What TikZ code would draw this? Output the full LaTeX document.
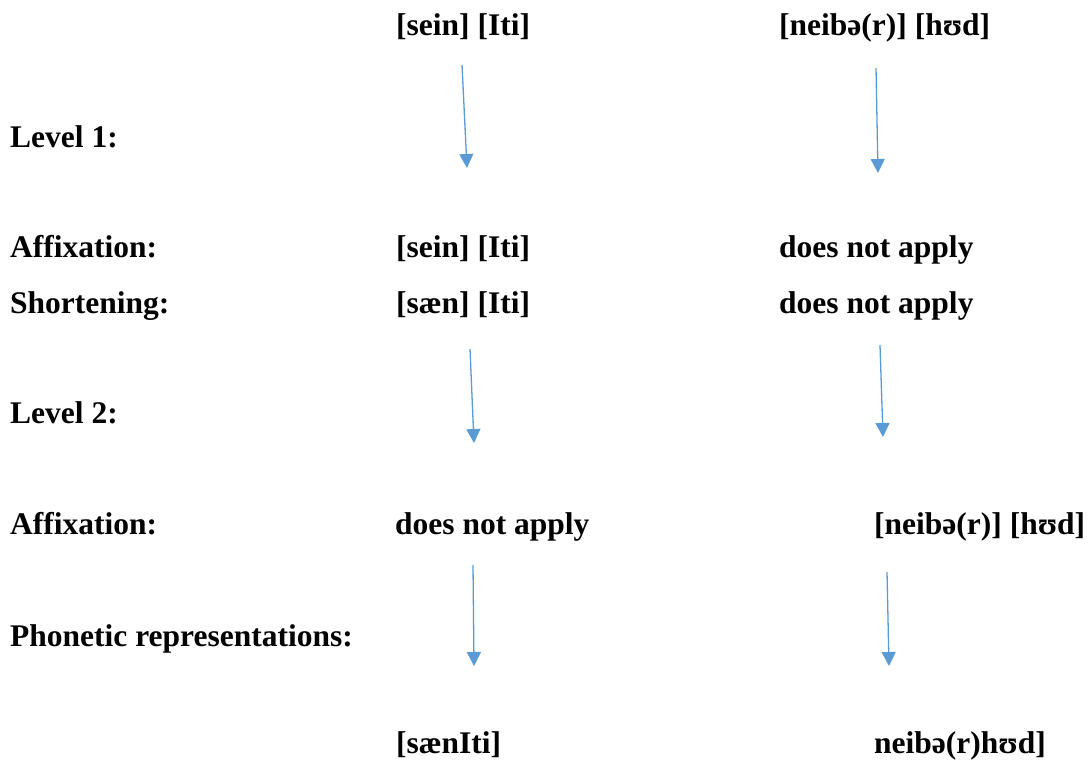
\documentclass[tikz,border=0pt]{standalone}
\usepackage{fontspec}
\setmainfont{Liberation Serif}
\usetikzlibrary{arrows.meta}
\definecolor{arrowblue}{RGB}{91,155,213}
\tikzset{
  lbl/.style={anchor=base west, inner sep=0pt, font=\fontsize{31.5}{38}\selectfont\bfseries},
  flow/.style={draw=arrowblue, line width=1.3pt, -{Triangle[width=14pt,length=14pt]}},
}
\begin{document}
\begin{tikzpicture}[x=1pt,y=-1pt]
\useasboundingbox (0,0) rectangle (1091,761);

% row labels
\node[lbl] (l1)   at (10,147) {Level 1:};
\node[lbl] (aff1) at (10,257) {Affixation:};
\node[lbl] (sh)   at (10,313) {Shortening:};
\node[lbl] (l2)   at (10,423) {Level 2:};
\node[lbl] (aff2) at (10,534) {Affixation:};
\node[lbl] (ph)   at (10,646) {Phonetic representations:};

% left derivation
\node[lbl] (a0) at (396,35)  {[sein] [Iti]};
\node[lbl] (a1) at (396,257) {[sein] [Iti]};
\node[lbl] (a2) at (396,313) {[sæn] [Iti]};
\node[lbl] (a3) at (395,534) {does not apply};
\node[lbl] (a4) at (396,753) {[sænIti]};

% right derivation
\node[lbl] (b0) at (779,35)  {[neibə(r)] [hʊd]};
\node[lbl] (b1) at (779,257) {does not apply};
\node[lbl] (b2) at (779,313) {does not apply};
\node[lbl] (b3) at (874,534) {[neibə(r)] [hʊd]};
\node[lbl] (b4) at (874,753) {neibə(r)hʊd]};

% arrow end points
\coordinate (s1) at (462,65);  \coordinate (e1) at (467,168);
\coordinate (s2) at (876,68);  \coordinate (e2) at (878,173);
\coordinate (s3) at (470,349); \coordinate (e3) at (474,443);
\coordinate (s4) at (880,345); \coordinate (e4) at (883,437);
\coordinate (s5) at (473,565); \coordinate (e5) at (474,666);
\coordinate (s6) at (887,572); \coordinate (e6) at (889,666);

\foreach \i in {1,...,6} \draw[flow] (s\i) -- (e\i);
\end{tikzpicture}
\end{document}
